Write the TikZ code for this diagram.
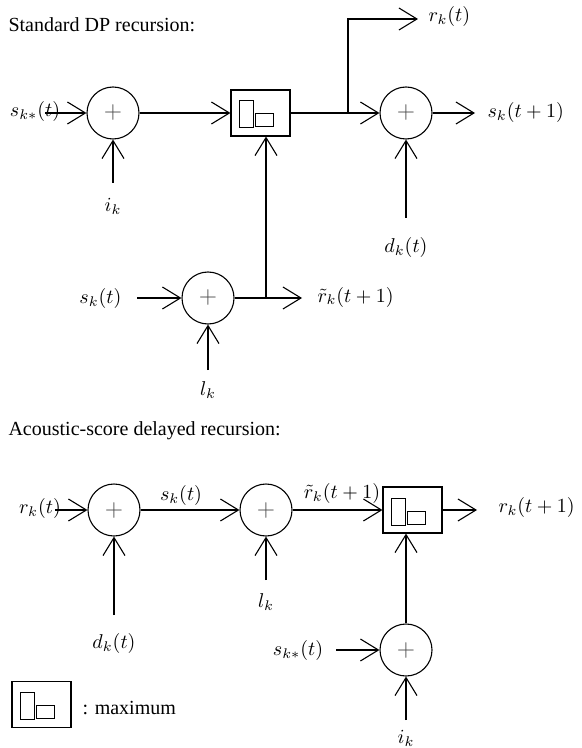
\documentclass[tikz,border=0pt]{standalone}
\usepackage{fontspec}
\setmainfont{Liberation Serif}
\usetikzlibrary{arrows.meta}

\begin{document}
\begin{tikzpicture}[x=0.5pt,y=-0.5pt,
  line width=0.55pt,
  flow/.style={-{Straight Barb[length=9pt,width=11pt,line width=0.55pt]}},
  sumnode/.style={circle,draw,minimum size=26pt,inner sep=0pt,
    font=\large\color{black!70}},
  maxbox/.style={draw,minimum width=29.5pt,minimum height=23pt,inner sep=0pt,
    path picture={
      \draw[line width=0.5pt] ([shift={(-10.75pt,-7.5pt)}]path picture bounding box.center)
        rectangle ++(7.25pt,13.5pt);
      \draw[line width=0.5pt] ([shift={(-2.75pt,-7pt)}]path picture bounding box.center)
        rectangle ++(9pt,6.5pt);
    }},
  lbl/.style={inner sep=0pt},
  title/.style={inner sep=0pt,anchor=west}]

\useasboundingbox (0,0) rectangle (582,748);

% ---------- Standard DP recursion ----------
\node[title] (t1) at (8,25) {Standard DP recursion:};

\node[sumnode] (c1) at (113,113) {$+$};
\node[maxbox]  (m1) at (260.5,113) {};
\node[sumnode] (c2) at (406,113) {$+$};
\node[sumnode] (c3) at (208,298) {$+$};

\node[lbl] (l1)  at (35,112)  {$s_{k\ast}(t)$};
\node[lbl] (l2)  at (113,206) {$i_k$};
\node[lbl,anchor=west] (l3) at (428,17)  {$r_k(t)$};
\node[lbl,anchor=west] (l4) at (487,113) {$s_k(t+1)$};
\node[lbl] (l5)  at (406,248) {$d_k(t)$};
\node[lbl,anchor=east] (l6) at (122,299) {$s_k(t)$};
\node[lbl,anchor=west] (l7) at (317,297) {$\tilde r_k(t+1)$};
\node[lbl] (l8)  at (208,390) {$l_k$};

\coordinate (a1) at (45,113);
\coordinate (a2) at (113,183);
\coordinate (br1) at (348,113);
\coordinate (a3) at (418,19);
\coordinate (a4) at (475,113);
\coordinate (a5) at (406,218);
\coordinate (a6) at (137,298);
\coordinate (a7) at (208,370);
\coordinate (a8) at (302,298);
\coordinate (br2) at (266,298);

\draw[flow] (a1) -- (c1.west);
\draw[flow] (a2) -- (c1.south);
\draw[flow] (c1.east) -- (m1.west);
\draw[flow] (m1.east) -- (c2.west);
\draw[flow] (br1) |- (a3);
\draw[flow] (c2.east) -- (a4);
\draw[flow] (a5) -- (c2.south);
\draw[flow] (a6) -- (c3.west);
\draw[flow] (a7) -- (c3.south);
\draw[flow] (c3.east) -- (a8);
\draw[flow] (br2) -- (br2 |- m1.south);

% ---------- Acoustic-score delayed recursion ----------
\node[title] (t2) at (8,431) {Acoustic-score delayed recursion:};

\node[sumnode] (c4) at (114,510) {$+$};
\node[sumnode] (c5) at (266,510) {$+$};
\node[maxbox]  (m2) at (412.5,510) {};
\node[sumnode] (c6) at (406,650) {$+$};

\node[lbl] (k1) at (40,508)  {$r_k(t)$};
\node[lbl] (k2) at (114,643) {$d_k(t)$};
\node[lbl] (k3) at (181,495) {$s_k(t)$};
\node[lbl] (k4) at (266,602) {$l_k$};
\node[lbl] (k5) at (342,493) {$\tilde r_k(t+1)$};
\node[lbl,anchor=west] (k6) at (498,507) {$r_k(t+1)$};
\node[lbl] (k7) at (298,650) {$s_{k\ast}(t)$};
\node[lbl] (k8) at (406,738) {$i_k$};

\coordinate (b1) at (55,510);
\coordinate (b2) at (114,615);
\coordinate (b3) at (266,580);
\coordinate (b4) at (477,510);
\coordinate (b5) at (336,650);
\coordinate (b6) at (406,720);

\draw[flow] (b1) -- (c4.west);
\draw[flow] (b2) -- (c4.south);
\draw[flow] (c4.east) -- (c5.west);
\draw[flow] (b3) -- (c5.south);
\draw[flow] (c5.east) -- (m2.west);
\draw[flow] (m2.east) -- (b4);
\draw[flow] (b5) -- (c6.west);
\draw[flow] (b6) -- (c6.south);
\draw[flow] (c6.north) -- (c6.north |- m2.south);

% ---------- legend ----------
\node[maxbox] (m3) at (41.5,704.5) {};
\node[lbl,anchor=west] (leg) at (82,708) {: maximum};

\end{tikzpicture}
\end{document}
